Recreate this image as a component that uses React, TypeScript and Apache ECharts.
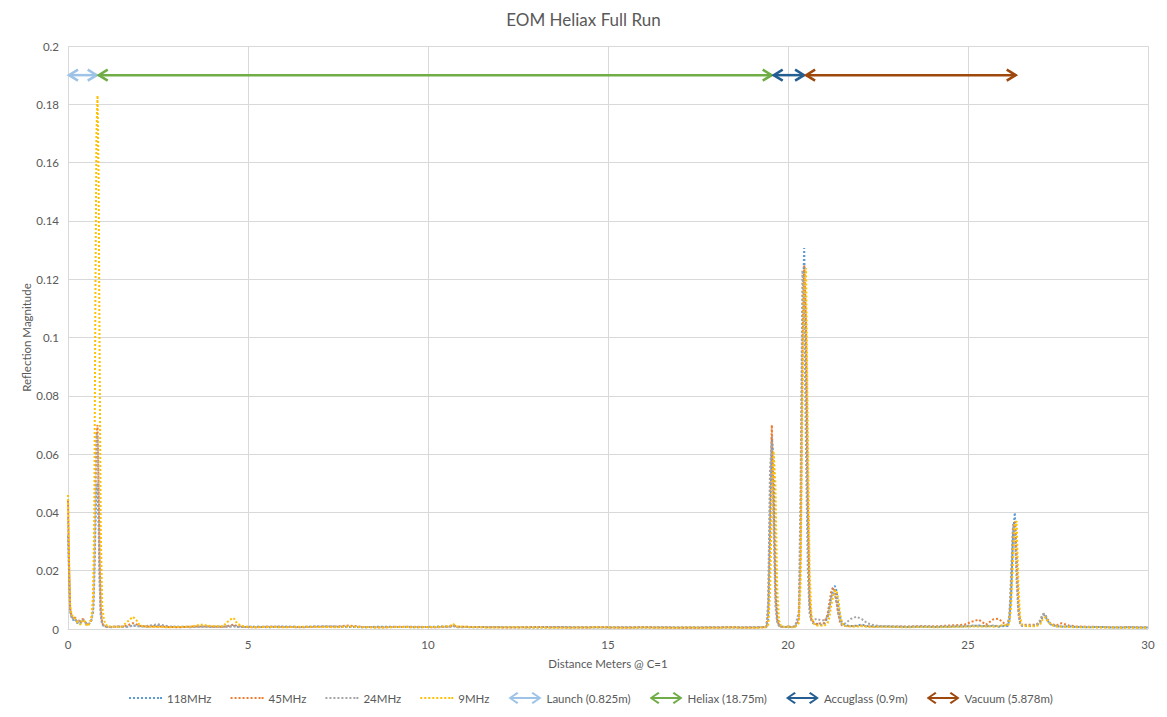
import React, { useEffect, useRef } from "react";
import * as echarts from "echarts";

// Distance (m) sample positions shared by all four frequency traces
const distances = [
  // 0 - 1.2 (launch reflection)
  0, 0.03, 0.06, 0.1, 0.15, 0.2, 0.25, 0.3, 0.35, 0.4, 0.45, 0.5, 0.55, 0.6, 0.65, 0.7, 0.73, 0.76, 0.79, 0.82, 0.85, 0.88, 0.91, 0.95, 1.0, 1.05, 1.1, 1.2,
  // 1.35 - 19.3 (heliax run)
  1.35, 1.5, 1.65, 1.8, 1.9, 2.0, 2.2, 2.5, 2.8, 3.1, 3.4, 3.7, 4.0, 4.3, 4.5, 4.6, 4.7, 4.9, 5.2, 5.6, 6.0, 6.5, 7.0, 7.5, 7.8, 8.2, 8.7, 9.2, 9.7, 10.2, 10.6, 10.7, 10.8, 11.3, 11.8, 12.4, 13.0, 13.6, 14.2, 14.8, 15.4, 16.0, 16.6, 17.2, 17.8, 18.4, 19.0, 19.3,
  // 19.4 - 19.9
  19.4, 19.45, 19.5, 19.55, 19.6, 19.65, 19.7, 19.75, 19.8, 19.9,
  // 20.0 - 20.9
  20.0, 20.1, 20.2, 20.3, 20.35, 20.4, 20.45, 20.5, 20.55, 20.6, 20.65, 20.7, 20.8, 20.9,
  // 21.0 - 22.6
  21.0, 21.1, 21.15, 21.2, 21.25, 21.3, 21.35, 21.4, 21.45, 21.5, 21.6, 21.75, 21.9, 22.05, 22.2, 22.4, 22.6,
  // 22.9 - 26.0
  22.9, 23.3, 23.7, 24.1, 24.5, 24.9, 25.1, 25.3, 25.5, 25.7, 25.85, 26.0,
  // 26.1 - 26.6
  26.1, 26.15, 26.2, 26.25, 26.3, 26.35, 26.4, 26.45, 26.5, 26.6,
  // 26.75 - 30
  26.75, 26.9, 27.0, 27.05, 27.1, 27.15, 27.2, 27.3, 27.45, 27.6, 27.8, 28.0, 28.3, 28.7, 29.1, 29.5, 29.8, 30,
];

const mag118MHz = [
  0.032, 0.018, 0.006, 0.004, 0.003, 0.0035, 0.002, 0.0025, 0.002, 0.003, 0.0025, 0.002, 0.0015, 0.002, 0.003, 0.006, 0.016, 0.034, 0.048, 0.05, 0.036, 0.015, 0.005, 0.0015, 0.001, 0.0008, 0.0007, 0.0006,
  0.0008, 0.0007, 0.0008, 0.0012, 0.001, 0.0009, 0.0008, 0.0012, 0.0007, 0.0008, 0.0006, 0.0009, 0.0007, 0.0008, 0.0009, 0.0011, 0.0008, 0.0007, 0.0008, 0.0006, 0.0008, 0.0007, 0.0009, 0.0008, 0.0007, 0.0006, 0.0008, 0.0007, 0.0006, 0.0008, 0.0009, 0.0012, 0.0007, 0.0006, 0.0007, 0.0006, 0.0005, 0.0007, 0.0006, 0.0005, 0.0006, 0.0005, 0.0006, 0.0005, 0.0006, 0.0005, 0.0006, 0.0007,
  0.0007, 0.003, 0.03, 0.066, 0.058, 0.02, 0.004, 0.0015, 0.0009, 0.0007,
  0.0008, 0.0007, 0.0009, 0.004, 0.03, 0.105, 0.1307, 0.09, 0.035, 0.008, 0.003, 0.002, 0.0018, 0.0015,
  0.0015, 0.004, 0.007, 0.011, 0.014, 0.0148, 0.013, 0.008, 0.004, 0.002, 0.0012, 0.001, 0.0012, 0.0015, 0.001, 0.0008, 0.0009,
  0.0008, 0.0007, 0.0008, 0.0007, 0.0008, 0.0009, 0.001, 0.0012, 0.0009, 0.0011, 0.0008, 0.001,
  0.001, 0.003, 0.012, 0.032, 0.0399, 0.025, 0.008, 0.002, 0.0012, 0.001,
  0.001, 0.0012, 0.002, 0.0035, 0.0048, 0.0045, 0.003, 0.0015, 0.001, 0.0008, 0.0009, 0.0007, 0.0006, 0.0007, 0.0005, 0.0006, 0.0005, 0.0005,
];

const mag45MHz = [
  0.044, 0.022, 0.007, 0.0045, 0.0035, 0.004, 0.0025, 0.003, 0.002, 0.0035, 0.003, 0.002, 0.0015, 0.0025, 0.003, 0.008, 0.022, 0.045, 0.066, 0.07, 0.05, 0.022, 0.007, 0.002, 0.001, 0.0009, 0.0008, 0.0007,
  0.0009, 0.0008, 0.0012, 0.002, 0.0016, 0.001, 0.0008, 0.0009, 0.0007, 0.0006, 0.0008, 0.0009, 0.0008, 0.0007, 0.0012, 0.0015, 0.001, 0.0007, 0.0006, 0.0008, 0.0007, 0.0006, 0.0008, 0.0009, 0.0012, 0.0007, 0.0006, 0.0008, 0.0007, 0.0006, 0.0008, 0.0013, 0.0008, 0.0007, 0.0006, 0.0005, 0.0007, 0.0006, 0.0005, 0.0006, 0.0005, 0.0006, 0.0005, 0.0004, 0.0005, 0.0006, 0.0005, 0.0006,
  0.0008, 0.006, 0.04, 0.07, 0.045, 0.012, 0.003, 0.0012, 0.0008, 0.0007,
  0.0009, 0.0007, 0.0008, 0.003, 0.025, 0.095, 0.125, 0.105, 0.045, 0.01, 0.003, 0.0025, 0.0015, 0.002,
  0.002, 0.005, 0.009, 0.013, 0.0142, 0.013, 0.009, 0.005, 0.002, 0.0012, 0.001, 0.0009, 0.001, 0.0012, 0.0009, 0.0008, 0.0009,
  0.0009, 0.0008, 0.001, 0.0009, 0.0012, 0.0015, 0.0025, 0.0032, 0.0015, 0.0033, 0.0035, 0.002,
  0.0015, 0.004, 0.016, 0.034, 0.0368, 0.022, 0.007, 0.002, 0.0012, 0.0015,
  0.0015, 0.0015, 0.0025, 0.004, 0.0052, 0.005, 0.0035, 0.0018, 0.0012, 0.002, 0.0012, 0.0009, 0.0008, 0.0007, 0.0006, 0.0007, 0.0006, 0.0006,
];

const mag24MHz = [
  0.038, 0.02, 0.0065, 0.004, 0.0035, 0.0035, 0.002, 0.003, 0.0025, 0.003, 0.003, 0.002, 0.0015, 0.002, 0.003, 0.008, 0.024, 0.048, 0.067, 0.066, 0.044, 0.018, 0.005, 0.0015, 0.0012, 0.0009, 0.0007, 0.0007,
  0.0008, 0.0009, 0.0008, 0.0011, 0.0012, 0.0009, 0.0011, 0.0016, 0.0009, 0.0007, 0.0008, 0.0007, 0.0009, 0.0008, 0.0008, 0.0009, 0.0007, 0.0008, 0.0007, 0.0009, 0.0008, 0.0007, 0.0008, 0.0007, 0.0008, 0.0007, 0.0006, 0.0007, 0.0008, 0.0006, 0.0007, 0.001, 0.0006, 0.0007, 0.0006, 0.0007, 0.0006, 0.0005, 0.0006, 0.0007, 0.0005, 0.0006, 0.0005, 0.0006, 0.0005, 0.0006, 0.0005, 0.0006,
  0.0008, 0.01, 0.055, 0.064, 0.035, 0.008, 0.002, 0.001, 0.0008, 0.0006,
  0.0008, 0.0007, 0.001, 0.006, 0.05, 0.123, 0.11, 0.06, 0.02, 0.005, 0.003, 0.003, 0.0035, 0.003,
  0.003, 0.004, 0.008, 0.011, 0.0125, 0.012, 0.009, 0.005, 0.0025, 0.0015, 0.002, 0.0035, 0.0042, 0.0034, 0.002, 0.0012, 0.001,
  0.0009, 0.0008, 0.0009, 0.0008, 0.0009, 0.001, 0.0012, 0.0011, 0.001, 0.0012, 0.001, 0.0012,
  0.0012, 0.005, 0.02, 0.036, 0.033, 0.016, 0.005, 0.0015, 0.001, 0.0012,
  0.0012, 0.0013, 0.003, 0.0045, 0.0053, 0.0048, 0.003, 0.0015, 0.001, 0.0009, 0.0008, 0.0007, 0.0007, 0.0006, 0.0006, 0.0005, 0.0005, 0.0005,
];

const mag9MHz = [
  0.046, 0.024, 0.008, 0.005, 0.004, 0.0035, 0.0025, 0.002, 0.0015, 0.003, 0.003, 0.0015, 0.001, 0.002, 0.0035, 0.012, 0.04, 0.11, 0.17, 0.183, 0.155, 0.09, 0.035, 0.008, 0.003, 0.0015, 0.001, 0.0008,
  0.0007, 0.0008, 0.0025, 0.0042, 0.003, 0.0012, 0.0008, 0.0007, 0.0006, 0.0007, 0.0008, 0.0015, 0.001, 0.0009, 0.0032, 0.0038, 0.0018, 0.0008, 0.0006, 0.0007, 0.0006, 0.0008, 0.0007, 0.0006, 0.0009, 0.0006, 0.0005, 0.0007, 0.0006, 0.0007, 0.001, 0.0017, 0.0009, 0.0006, 0.0005, 0.0006, 0.0005, 0.0004, 0.0005, 0.0006, 0.0004, 0.0005, 0.0004, 0.0005, 0.0004, 0.0005, 0.0004, 0.0005,
  0.0006, 0.0015, 0.012, 0.042, 0.061, 0.05, 0.014, 0.003, 0.0012, 0.0007,
  0.0007, 0.0006, 0.0007, 0.002, 0.015, 0.075, 0.118, 0.1238, 0.07, 0.02, 0.005, 0.002, 0.0012, 0.0012,
  0.001, 0.002, 0.004, 0.008, 0.011, 0.013, 0.0132, 0.01, 0.005, 0.002, 0.001, 0.0009, 0.0008, 0.001, 0.0008, 0.0007, 0.0008,
  0.0007, 0.0006, 0.0007, 0.0006, 0.0007, 0.0008, 0.0009, 0.0008, 0.0009, 0.0008, 0.0009, 0.0015,
  0.001, 0.002, 0.008, 0.024, 0.036, 0.037, 0.015, 0.004, 0.0015, 0.001,
  0.0009, 0.001, 0.0015, 0.0028, 0.0038, 0.004, 0.003, 0.0015, 0.0009, 0.0008, 0.0007, 0.0006, 0.0006, 0.0005, 0.0005, 0.0004, 0.0004, 0.0004,
];

const traceNames = ["118MHz", "45MHz", "24MHz", "9MHz"];
const traceValues = [mag118MHz, mag45MHz, mag24MHz, mag9MHz];
const traceColors = ["#5B9BD5", "#ED7D31", "#A5A5A5", "#FFC000"];

const sectionNames = ["Launch (0.825m)", "Heliax (18.75m)", "Accuglass (0.9m)", "Vacuum (5.878m)"];
const sectionStart = [0, 0.825, 19.575, 20.475];
const sectionEnd = [0.825, 19.575, 20.475, 26.353];
const sectionLevel = 0.19;
const sectionColors = ["#9DC3E6", "#70AD47", "#255E91", "#9E480E"];

const xTicks = { min: 0, max: 30, interval: 5 };
const yTicks = { min: 0, max: 0.2, interval: 0.02 };

const FONT = "Lato, 'Open Sans', sans-serif";
const TEXT = "#595959";
const GRID = "#D9D9D9";

const arrowIcon =
  "path://M0,6L8.5,0L10,1.6L4.5,5H28.5L23,1.6L24.5,0L33,6L24.5,12L23,10.4L28.5,7H4.5L10,10.4L8.5,12Z";
const dotIcon =
  "path://M0,0H2V2H0Z M4,0H6V2H4Z M8,0H10V2H8Z M12,0H14V2H12Z M16,0H18V2H16Z M20,0H22V2H20Z M24,0H26V2H24Z M28,0H30V2H28Z M31,0H33V2H31Z";

export default function App() {
  const ref = useRef<HTMLDivElement>(null);

  useEffect(() => {
    if (!ref.current) return;
    const chart = echarts.init(ref.current, null, { renderer: "svg" });

    const lineSeries = traceNames.map((name, k) => ({
      name,
      type: "line",
      symbol: "none",
      showSymbol: false,
      smooth: false,
      z: 2 + k,
      data: distances
        .map((d, i) => [d, traceValues[k][i]])
        .filter((p) => p[1] !== undefined),
      lineStyle: { color: traceColors[k], width: 2, type: [2, 2] },
      itemStyle: { color: traceColors[k] },
    }));

    const arrowSeries = sectionNames.map((name, k) => ({
      name,
      type: "custom",
      z: 10,
      clip: false,
      itemStyle: { color: sectionColors[k] },
      encode: { x: [0, 1], y: 2 },
      data: [[sectionStart[k], sectionEnd[k], sectionLevel]],
      renderItem: (params: any, api: any) => {
        const a = api.coord([api.value(0), api.value(2)]);
        const b = api.coord([api.value(1), api.value(2)]);
        const color = sectionColors[k];
        const w = 9;
        const h = 5.5;
        const st = { stroke: color, lineWidth: 2.5, fill: "none" };
        return {
          type: "group",
          children: [
            { type: "line", shape: { x1: a[0] + 1, y1: a[1], x2: b[0] - 1, y2: b[1] }, style: st },
            {
              type: "polyline",
              shape: { points: [[a[0] + 1 + w, a[1] - h], [a[0] + 1, a[1]], [a[0] + 1 + w, a[1] + h]] },
              style: st,
            },
            {
              type: "polyline",
              shape: { points: [[b[0] - 1 - w, b[1] - h], [b[0] - 1, b[1]], [b[0] - 1 - w, b[1] + h]] },
              style: st,
            },
          ],
        };
      },
    }));

    chart.setOption({
      animation: false,
      backgroundColor: "#ffffff",
      textStyle: { fontFamily: FONT },
      title: {
        text: "EOM Heliax Full Run",
        left: "center",
        top: 6,
        textStyle: { fontFamily: FONT, fontSize: 17, fontWeight: "normal", color: TEXT },
      },
      grid: { left: 68, right: 19, top: 46, bottom: 88, containLabel: false },
      legend: {
        top: 687,
        left: 124,
        itemWidth: 33,
        itemHeight: 12,
        itemGap: 19,
        textStyle: { fontFamily: FONT, fontSize: 11.5, color: TEXT },
        data: [
          ...traceNames.map((n) => ({ name: n, icon: dotIcon })),
          ...sectionNames.map((n) => ({ name: n, icon: arrowIcon })),
        ],
      },
      xAxis: {
        type: "value",
        min: xTicks.min,
        max: xTicks.max,
        interval: xTicks.interval,
        name: "Distance Meters @ C=1",
        nameLocation: "middle",
        nameGap: 28,
        nameTextStyle: { fontFamily: FONT, fontSize: 11.5, color: TEXT },
        axisLine: { show: true, lineStyle: { color: GRID } },
        axisTick: { show: false },
        axisLabel: { fontFamily: FONT, fontSize: 11.5, color: TEXT, margin: 9 },
        splitLine: { show: true, lineStyle: { color: GRID, width: 1 } },
      },
      yAxis: {
        type: "value",
        min: yTicks.min,
        max: yTicks.max,
        interval: yTicks.interval,
        name: "Reflection Magnitude",
        nameLocation: "middle",
        nameGap: 36,
        nameMoveOverlap: false,
        nameTextStyle: { fontFamily: FONT, fontSize: 11.5, color: TEXT },
        axisLine: { show: false },
        axisTick: { show: false },
        axisLabel: { fontFamily: FONT, fontSize: 11.5, color: TEXT, margin: 9 },
        splitLine: { show: true, lineStyle: { color: GRID, width: 1 } },
      },
      series: [...lineSeries, ...arrowSeries],
    });

    return () => chart.dispose();
  }, []);

  return (
    <div
      ref={ref}
      style={{ position: "fixed", left: 0, top: 0, width: 1167, height: 717, background: "#fff" }}
    />
  );
}
